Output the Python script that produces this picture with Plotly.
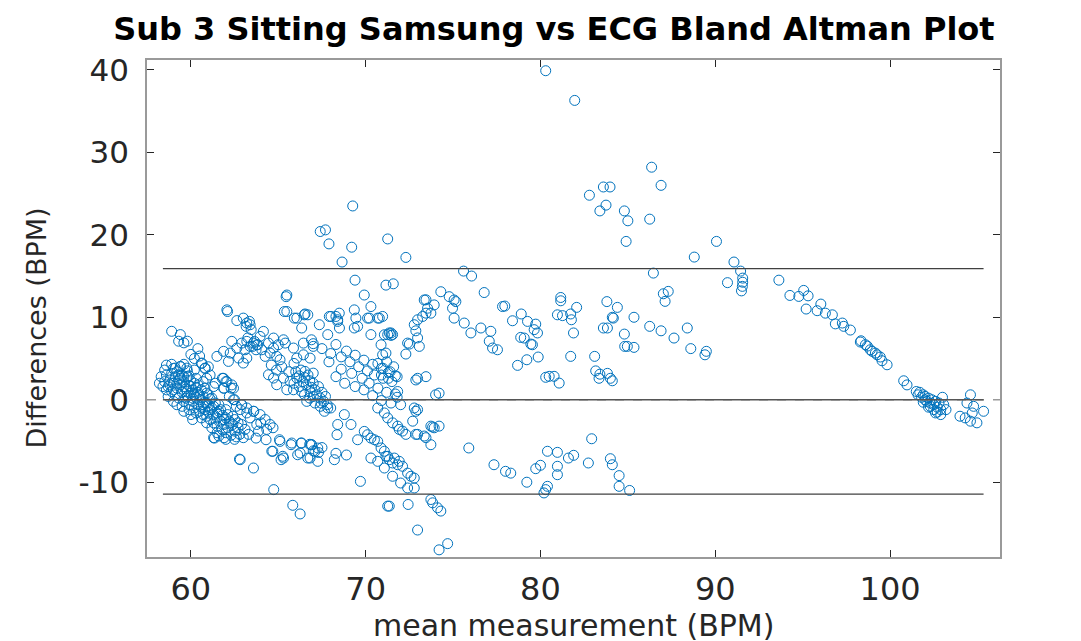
import plotly.graph_objects as go

# ---- data (mean BPM, difference BPM) ----
cluster_left = [
    (58.3, 2.8), (58.5, 2.2), (58.6, 3.0), (58.7, 1.6), (58.8, 2.4), (58.9, 3.2), (58.9, 1.0), (59.0, 2.0),
    (59.1, 2.8), (59.1, 0.6), (59.2, 1.4), (59.3, 2.4), (59.3, 0.2), (59.4, 1.8), (59.5, 3.0), (59.5, 0.9),
    (59.6, -0.2), (59.6, 2.2), (59.7, 1.3), (59.8, 0.4), (59.8, 2.8), (59.9, -0.6), (59.9, 1.7), (60.0, 0.8),
    (60.0, 2.3), (60.1, -0.2), (60.1, 1.2), (60.2, -1.0), (60.2, 2.0), (60.3, 0.3), (60.3, 1.5), (60.4, -0.6),
    (60.4, 0.9), (60.5, -1.4), (60.5, 0.0), (60.6, 1.2), (60.6, -0.9), (60.7, 0.4), (60.7, -1.8), (60.8, -0.3),
    (60.8, -1.2), (60.9, 0.8), (60.9, -2.0), (61.0, -0.7), (61.0, -1.5), (61.1, 0.1), (61.1, -2.4), (61.2, -1.0),
    (61.3, -1.8), (61.3, -2.8), (61.4, -0.4), (61.5, -2.2), (61.5, -3.2), (61.6, -1.4), (61.7, -2.6), (61.8, -3.6),
    (61.8, -1.9), (61.9, -3.0), (62.0, -2.2), (62.0, -4.0), (62.1, -3.4), (62.2, -2.6), (62.3, -4.3), (62.4, -3.0),
    (62.5, -3.8), (62.6, -4.5), (62.7, -3.4), (62.8, -4.2), (59.2, 3.4), (59.0, 3.8), (58.6, 4.2), (59.4, 4.0),
    (59.6, 4.3), (58.9, 4.3), (60.6, 4.4), (60.8, 3.8), (61.0, 4.0), (60.2, 3.6), (59.8, 3.5), (59.5, -0.8),
    (59.9, -1.2), (60.3, -1.6), (60.6, -2.2), (60.9, -2.8), (61.2, -3.4), (61.5, -4.0), (61.3, -4.6), (61.6, -4.4),
    (61.9, -4.6), (60.0, -1.8), (59.7, 0.2), (58.4, 1.6), (58.7, 0.4), (59.0, -0.2), (61.35, -4.65),
    (58.9, 8.3), (59.4, 7.9), (59.6, 6.9), (59.3, 7.1), (59.8, 7.1), (60.4, 6.2), (60.0, 5.5), (60.2, 5.0),
    (60.5, 5.3), (59.4, 4.05), (59.1, 3.84), (59.77, 3.84), (60.63, 4.45), (60.82, 3.84),
    (61.87, 2.6), (62.06, 2.2), (62.44, 1.4), (62.34, 1.8), (61.87, 1.4), (61.3, 1.6),
    (61.8, 2.6), (62.0, 2.2), (62.3, 1.4), (61.9, 1.4), (62.2, 0.4), (62.5, 0.0),
    (58.2, 2.0), (58.5, 3.6), (60.9, 2.6), (61.1, 3.0), (61.4, 2.0), (59.2, -0.6), (59.6, -1.4), (60.1, -2.4),
    (58.6, 1.2), (58.8, 1.8), (59.0, 1.2), (59.2, 2.0), (59.4, 2.6), (59.6, 1.6), (59.8, 1.0), (60.0, 1.6),
    (60.2, 0.6), (60.4, 1.8), (60.5, 0.5), (60.7, -0.6), (60.9, -0.4), (61.1, -1.2), (61.3, -0.8), (61.5, -1.6),
    (61.7, -1.2), (61.9, -2.4), (62.1, -1.8), (62.3, -2.8), (62.5, -2.4), (62.7, -2.8), (59.3, 3.0), (59.6, 2.8),
    (59.9, 2.9), (60.3, 2.6), (60.7, 2.2), (60.1, 0.2), (60.8, 1.4), (61.0, 0.6), (61.2, 0.2), (61.6, -0.6),
    (62.0, -1.2), (62.4, -2.0), (62.9, -3.0), (63.1, -3.6), (63.3, -4.2), (63.0, -4.6), (62.5, -4.8), (62.0, -4.8),
]

cluster_mid_left = [
    (65.49, 12.7), (65.45, 12.5), (62.06, 10.9), (62.1, 10.7), (62.63, 9.6), (63.0, 9.9), (63.2, 9.3),
    (63.39, 9.1), (63.35, 9.5), (63.16, 8.9), (63.45, 8.5), (63.26, 7.5), (63.64, 7.07), (63.83, 6.67),
    (63.54, 6.47), (63.73, 6.06), (65.49, 10.7), (66.06, 9.9), (66.53, 10.4), (66.34, 8.7), (65.35, 10.7),
    (65.92, 9.9), (66.49, 10.3), (67.35, 9.1),
    (61.87, 5.87), (62.25, 5.66), (62.63, 6.27), (62.91, 6.87), (62.73, 5.05), (63.0, 4.45), (63.2, 5.05),
    (62.15, 4.65), (62.34, 7.08), (61.49, 5.26),
    (63.2, 7.08), (63.77, 6.67), (63.96, 7.68), (64.15, 8.29), (63.58, 6.87), (63.39, 6.47), (63.1, 6.06),
    (64.44, 6.87), (64.73, 6.27), (64.53, 5.66), (64.25, 5.26), (64.91, 5.26), (65.1, 4.85), (64.06, 6.06),
    (65.3, 7.27), (65.4, 6.87), (65.0, 6.67), (64.73, 7.48),
    (65.87, 6.27), (66.44, 6.87), (66.9, 7.27), (67.0, 6.47), (66.44, 5.45), (66.06, 5.05), (66.82, 5.05),
    (64.44, 3.03), (64.73, 2.63), (65.3, 2.63), (65.68, 2.23), (66.06, 2.63), (66.53, 3.44), (67.0, 3.23),
    (64.91, 1.82), (65.49, 1.21), (65.87, 1.21), (66.34, 1.0), (66.82, 1.0), (67.0, 0.4), (66.63, -0.2),
    (62.44, 0.0), (62.91, -0.6), (63.2, -1.0), (63.58, -1.4), (63.96, -1.8), (64.25, -2.4), (64.53, -3.0),
    (64.34, -3.6), (63.87, -3.8), (63.39, -2.2), (63.77, -3.0), (63.2, -1.6), (62.82, -1.2), (62.9, -0.6),
    (63.6, -1.4), (64.0, -2.8), (64.7, -3.4), (62.6, -0.8),
    (65.1, -5.05), (65.77, -5.25), (66.34, -5.25), (66.91, -5.45), (67.1, -6.25), (64.63, -6.25),
    (65.3, -7.07), (66.82, -7.07), (66.25, -6.46),
    (62.82, -7.27), (63.58, -8.28), (62.78, -7.2), (64.74, -10.9), (65.83, -12.8), (66.25, -13.85),
    (63.73, -4.65), (64.3, -4.85), (65.07, -4.85), (64.69, -6.25), (65.26, -6.86), (65.16, -7.27),
    (66.11, -6.67), (66.69, -7.07), (67.26, -7.47), (66.88, -5.45), (67.26, -5.86), (65.73, -5.45), (66.3, -5.25),
    (66.0, 3.4), (66.2, 2.9), (66.3, 3.6), (66.4, 2.2), (66.5, 2.7), (66.6, 1.8), (66.7, 3.0), (66.8, 2.3),
    (66.9, 1.5), (67.0, 2.0), (67.1, 1.2), (67.2, 0.6), (67.3, 1.6), (67.4, 0.2), (67.5, 0.9), (67.6, -0.2),
    (67.7, 0.4), (67.1, -0.4), (67.4, -0.8), (66.8, 0.2), (66.5, 0.6), (66.2, 1.6), (65.9, 2.0), (67.8, -0.6),
    (68.0, -1.0), (64.9, 3.6), (65.2, 4.0), (65.6, 3.4), (64.6, 4.2), (65.9, 4.4),
]

cluster_mid = [
    (67.4, 20.4), (67.7, 20.6), (69.26, 23.5), (71.26, 19.5), (67.9, 18.9), (69.2, 18.5), (68.65, 16.7),
    (72.3, 17.26), (69.39, 14.5), (71.58, 14.06), (71.16, 13.9), (69.92, 12.7), (70.3, 11.3), (70.78, 9.9),
    (69.35, 10.9), (67.92, 10.1), (68.3, 10.1), (68.4, 9.5), (68.49, 10.5), (69.44, 9.9), (69.54, 8.9),
    (70.11, 9.9), (70.69, 9.9), (70.97, 10.1), (70.3, 7.9), (70.88, 6.67), (71.26, 7.9), (70.21, 9.9),
    (69.35, 8.7), (66.69, 10.3), (68.02, 10.1), (68.4, 9.7), (68.5, 8.7), (67.83, 7.9),
    (71.07, 7.88), (70.97, 5.45), (71.16, 5.66), (71.45, 8.1), (71.54, 7.9),
    (67.0, 6.8), (67.5, 6.2), (68.0, 5.6), (68.6, 5.2), (69.1, 4.6), (69.6, 4.0), (70.1, 3.5), (70.5, 3.0),
    (71.0, 2.6), (71.5, 2.2), (68.3, 6.7), (68.9, 5.9), (69.4, 5.4), (69.9, 4.8), (70.4, 4.3), (70.9, 3.8),
    (71.3, 3.3), (71.7, 2.9), (68.6, 3.7), (69.2, 3.2), (69.8, 2.6), (70.2, 2.0), (70.7, 1.4), (71.2, 0.9),
    (71.8, 0.3), (67.9, 4.6), (68.3, 2.8), (68.8, 2.0), (69.4, 1.6), (69.9, 1.2), (70.4, 0.5), (70.9, -0.1),
    (70.7, 4.4), (71.0, 3.8), (71.2, 4.6), (71.4, 3.4), (71.6, 4.0), (71.8, 2.8), (70.9, 3.0), (71.3, 2.6),
    (71.45, -0.4), (72.0, -0.6), (72.78, -1.0), (72.97, -1.2), (70.69, -1.0), (71.07, -1.6), (71.26, -2.2),
    (71.54, -2.8), (71.83, -3.2), (71.92, -3.6), (72.11, -3.8), (72.69, -2.6), (72.3, -4.2), (72.87, -4.2),
    (73.45, -4.6), (73.73, -5.45), (73.83, -3.3), (74.2, -3.2),
    (68.4, -3.0), (69.16, -3.0), (68.78, -1.8), (67.64, -1.4), (67.83, -1.0), (67.45, -0.4), (68.21, -7.27),
    (68.36, -4.24), (69.7, -9.9), (70.3, -7.07), (70.69, -7.47), (71.07, -8.28), (71.26, -6.86), (70.3, -4.65),
    (69.92, -3.84), (69.54, -4.85), (70.11, -4.24), (70.5, -4.85), (71.26, -12.9),
    (70.69, -5.05), (70.88, -5.85), (71.07, -6.25), (71.16, -6.86), (71.35, -7.27), (71.54, -7.67),
    (71.64, -7.07), (71.83, -7.88), (71.92, -7.47), (72.11, -8.07), (71.54, -9.28), (72.0, -10.1),
    (72.4, -8.9), (72.59, -9.28), (72.78, -9.5), (72.4, -10.7), (72.78, -10.7),
    (71.35, -12.9), (72.43, -12.7), (73.73, -12.1), (73.83, -12.5), (74.11, -13.1), (74.3, -13.5),
    (72.97, -15.8), (74.2, -18.2), (74.69, -17.45),
    (66.8, -5.4), (67.0, -6.2), (67.3, -6.4), (67.5, -5.8), (68.3, -6.5), (68.9, -6.7),
    (72.87, 2.4), (73.45, 2.8), (74.0, 0.6), (74.2, 0.8), (72.97, 2.6), (71.83, 1.0), (71.7, 0.7),
    (72.87, -1.4), (73.73, -3.2), (73.92, -3.4), (73.35, -4.4), (72.97, -4.2),
]

cluster_center = [
    (75.9, -5.85), (77.34, -7.88), (78.3, -8.9), (78.0, -8.68), (79.22, -10.0), (79.73, -8.36), (80.0, -7.95),
    (76.78, 13.0), (78.4, 9.58), (78.9, 10.4), (79.26, 9.5), (79.73, 9.17), (79.83, 8.1), (79.64, 8.5),
    (79.07, 7.48), (78.87, 7.56), (79.45, 6.75), (79.54, 6.67), (78.69, 4.17), (79.22, 4.85), (79.87, 5.18),
    (74.3, 13.1), (74.78, 12.5), (75.06, 12.1), (75.16, 11.9), (74.97, 11.1), (75.06, 9.9), (75.64, 9.3),
    (76.02, 8.1), (76.59, 8.7), (77.16, 8.3), (77.07, 7.1), (77.26, 6.27), (77.54, 6.06), (77.83, 11.3),
    (75.6, 15.6), (76.06, 15.0), (77.96, 11.36),
    (71.35, 8.1), (71.45, 7.8), (72.4, 6.87), (72.97, 7.5), (73.07, 6.47), (72.3, 5.54), (72.78, 9.1),
    (72.97, 9.7), (73.26, 10.1), (73.45, 10.5), (73.54, 11.1), (73.35, 12.1), (73.92, 11.5), (72.5, 6.75),
    (72.87, 8.36), (73.73, 10.5), (73.45, 12.12),
]

cluster_right = [
    (80.3, 39.9), (81.96, 36.3), (86.36, 28.2), (86.9, 26.0), (83.6, 25.8), (83.98, 25.8), (82.8, 24.8),
    (83.75, 23.6), (83.4, 22.9), (84.8, 22.9), (85.0, 21.7), (86.25, 21.9), (84.9, 19.2),
    (81.16, 12.4), (81.16, 12.0), (80.97, 10.3), (81.26, 10.2), (82.07, 11.2), (81.73, 10.4), (81.77, 9.7),
    (81.89, 8.1), (81.73, 5.26), (83.1, 5.26),
    (83.8, 11.9), (84.4, 11.2), (84.17, 9.9), (83.6, 8.7), (84.8, 7.96), (84.82, 6.47), (84.97, 6.47),
    (85.35, 6.35), (85.35, 10.0), (84.11, 10.0),
    (86.46, 15.36), (87.03, 12.85), (87.31, 13.14), (87.13, 11.93), (86.25, 8.9), (86.9, 8.36), (87.64, 7.48),
    (88.4, 8.7), (88.6, 6.2), (89.49, 5.87), (89.41, 5.45), (83.83, 8.7),
    (80.5, 2.84), (80.78, 2.84), (81.07, 2.02), (80.3, 2.72), (83.16, 3.5), (83.35, 2.6), (83.83, 3.2),
    (84.0, 2.6), (84.11, 2.3), (83.4, 3.1),
    (80.4, -6.25), (80.97, -6.38), (80.97, -8.07), (80.97, -9.09), (80.3, -10.9), (80.4, -10.5), (80.2, -11.3),
    (81.6, -7.07), (81.9, -6.74), (82.93, -4.73), (82.74, -7.67), (84.0, -7.15), (84.11, -7.88), (84.5, -9.2),
    (84.5, -10.5), (85.1, -11.0),
    (88.8, 17.3), (90.07, 19.2), (91.07, 16.7), (91.45, 15.6), (91.57, 14.75), (91.57, 14.25), (91.55, 13.75),
    (91.5, 13.2), (90.7, 14.2), (93.64, 14.5),
]

cluster_far_right = [
    (94.27, 12.65), (95.06, 13.26), (94.78, 12.53), (95.31, 12.6), (95.2, 11.0), (95.83, 10.8), (96.04, 11.6),
    (96.3, 10.5), (96.7, 10.3), (96.87, 9.2), (97.27, 9.3), (97.35, 8.9), (97.73, 8.45), (98.34, 7.15),
    (98.59, 6.67), (98.87, 6.06), (99.16, 5.66), (99.44, 5.18), (98.3, 7.0), (98.7, 6.5), (98.97, 5.87),
    (99.26, 5.45), (99.54, 4.73), (99.83, 4.24), (100.78, 2.3), (100.97, 1.8),
    (101.5, 1.0), (101.6, 0.6), (101.7, 0.9), (101.8, 0.3), (101.9, 0.6), (102.0, 0.0), (102.0, 0.4),
    (102.1, -0.2), (102.2, 0.2), (102.3, -0.4), (102.3, -0.8), (102.4, 0.0), (102.5, -0.6), (102.5, -1.2),
    (102.6, -0.2), (102.7, -0.9), (102.7, -1.5), (102.8, -0.4), (102.9, -1.2), (102.9, -1.8), (101.9, -0.3),
    (102.2, -0.9), (102.6, -1.6), (103.07, -0.6), (103.2, -1.2), (103.0, 0.3),
    (104.6, 0.6), (104.4, -0.4), (104.78, -0.8), (105.35, -1.4), (104.0, -2.0), (104.6, -2.6), (104.97, -2.8),
    (104.7, -1.6), (104.3, -2.2),
]

# Bland-Altman reference lines: upper limit, mean difference, lower limit
loa_levels = [15.9, 0.0, -11.45]
mean_span = [58.4, 105.35]

x_ticks = [60, 70, 80, 90, 100]
y_ticks = [-10, 0, 10, 20, 30, 40]

groups = [cluster_left, cluster_mid_left, cluster_mid, cluster_center, cluster_right, cluster_far_right]
mean_bpm = [p[0] for g in groups for p in g]
diff_bpm = [p[1] for g in groups for p in g]

fig = go.Figure()
fig.add_trace(go.Scatter(
    x=mean_bpm, y=diff_bpm, mode="markers",
    marker=dict(symbol="circle-open", size=10, color="#0072BD", line=dict(width=1, color="#0072BD")),
    showlegend=False, hoverinfo="skip",
))

# zero reference (dashed, full width) and the three limit lines
fig.add_shape(type="line", xref="paper", yref="y", x0=0, x1=1, y0=0, y1=0,
              line=dict(color="#9a9a9a", width=1.5, dash="dash"), layer="above")
line_colors = ["#404040", "#555555", "#404040"]
for lv, lc in zip(loa_levels, line_colors):
    fig.add_shape(type="line", xref="x", yref="y", x0=mean_span[0], x1=mean_span[1], y0=lv, y1=lv,
                  line=dict(color=lc, width=1.4), layer="above")

font_family = "DejaVu Sans, Liberation Sans, Arial, sans-serif"
text_color = "#262626"

fig.update_layout(
    width=1081, height=641,
    margin=dict(l=139, r=89, t=52, b=92),
    paper_bgcolor="white", plot_bgcolor="white",
    title=dict(text="<b>Sub 3 Sitting Samsung vs ECG Bland Altman Plot</b>",
               x=0.505, xref="container", xanchor="center", y=0.968, yref="container", yanchor="middle",
               font=dict(family=font_family, size=32, color="black")),
    font=dict(family=font_family, color=text_color),
    annotations=[
        dict(text="mean measurement (BPM)", xref="paper", yref="paper", x=0.5, y=-0.138,
             xanchor="center", yanchor="middle", showarrow=False,
             font=dict(family=font_family, size=30, color=text_color)),
        dict(text="Differences (BPM)", xref="paper", yref="paper", x=-0.13, y=0.46,
             xanchor="center", yanchor="middle", textangle=-90, showarrow=False,
             font=dict(family=font_family, size=27, color=text_color)),
    ],
)
fig.update_xaxes(
    range=[57.49, 106.29], tickvals=x_ticks, ticktext=[str(v) for v in x_ticks],
    ticks="inside", ticklen=7, tickcolor=text_color, tickwidth=1,
    showline=True, linecolor="#9a9a9a", linewidth=1.5, mirror="allticks",
    showgrid=False, zeroline=False,
    tickfont=dict(size=32, color=text_color), ticklabelstandoff=3,
)
fig.update_yaxes(
    range=[-19.07, 41.2], tickvals=y_ticks, ticktext=[str(v) for v in y_ticks],
    ticks="inside", ticklen=7, tickcolor=text_color, tickwidth=1,
    showline=True, linecolor="#9a9a9a", linewidth=1.5, mirror="allticks",
    showgrid=False, zeroline=False,
    tickfont=dict(size=31, color=text_color), ticklabelstandoff=10,
)

fig.write_html("out.html")
